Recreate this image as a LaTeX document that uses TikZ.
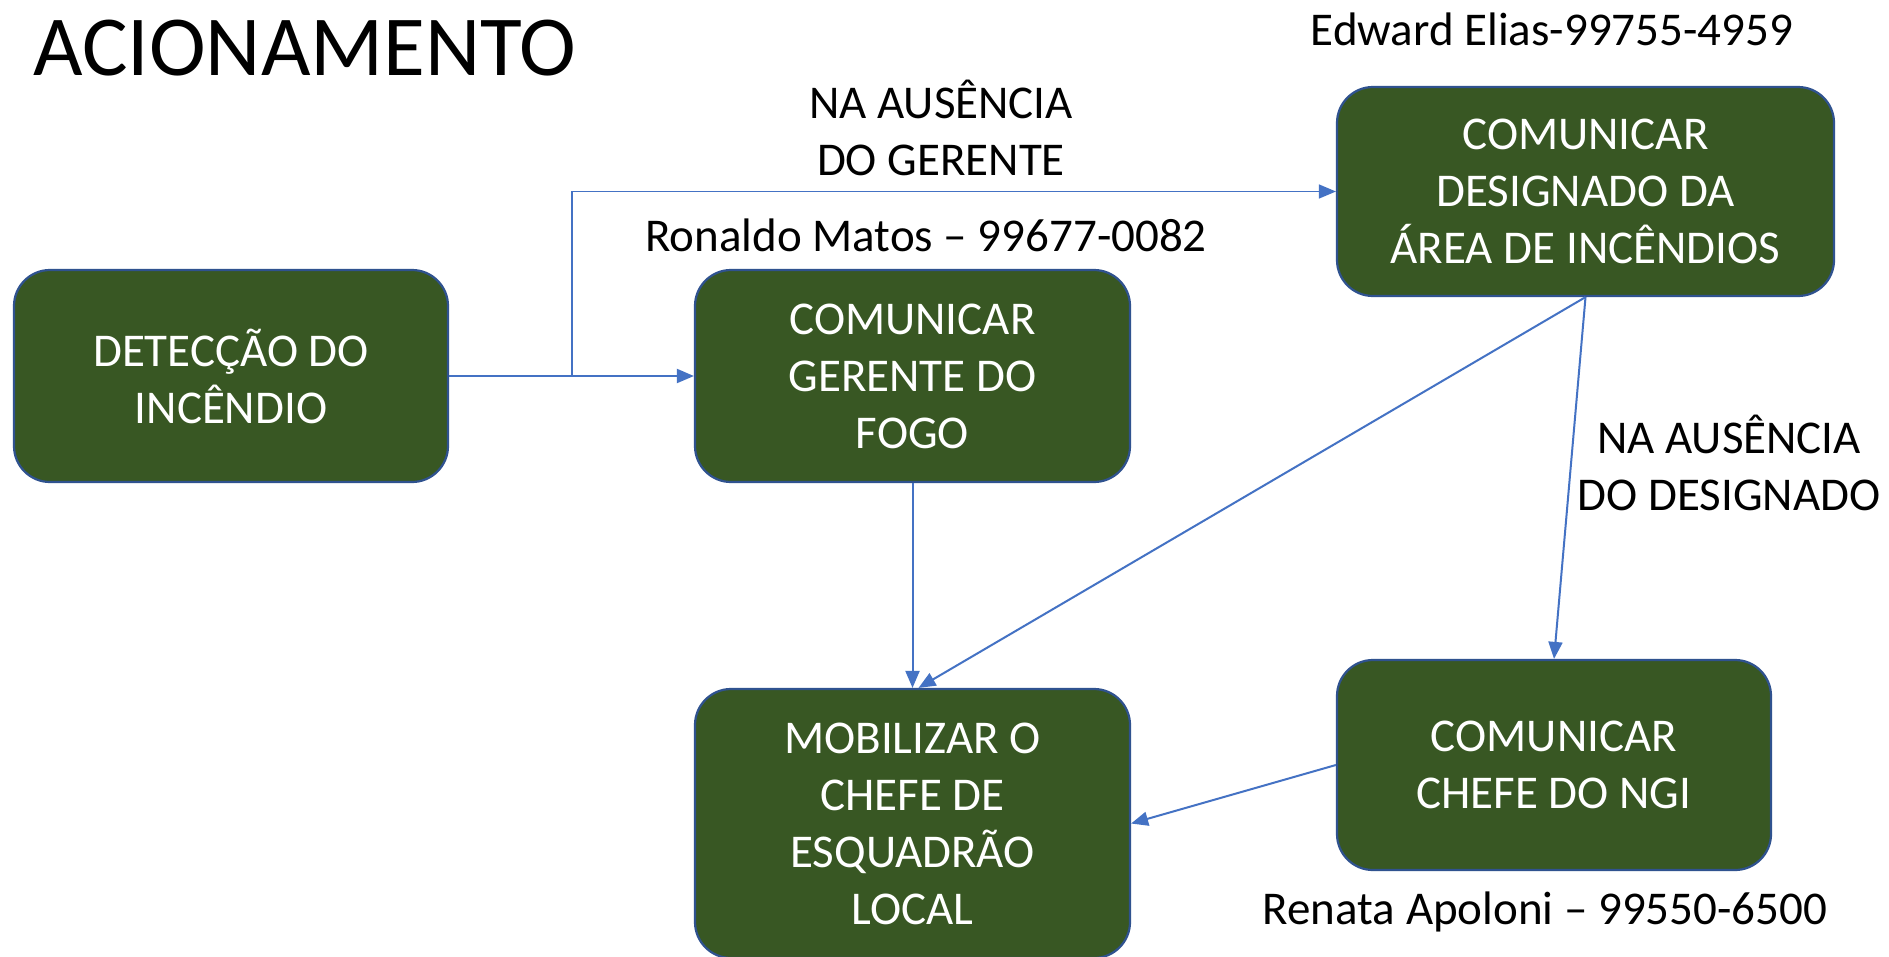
\documentclass[tikz,border=0pt]{standalone}
\usepackage{fontspec}
\setmainfont{Carlito}
\usetikzlibrary{arrows.meta}
\definecolor{boxgreen}{HTML}{385723}
\definecolor{boxline}{HTML}{2F528F}
\definecolor{connblue}{HTML}{4472C4}
\begin{document}
\begin{tikzpicture}[x=1pt,y=-1pt,
  box/.style={draw=boxline, line width=2.2pt, fill=boxgreen, rounded corners=36pt, text=white, align=center, font=\fontsize{47}{57}\selectfont, inner sep=0pt},
  lbl/.style={align=center, font=\fontsize{47}{57}\selectfont, inner sep=0pt},
  conn/.style={draw=connblue, line width=2pt, -{Triangle[length=17pt,width=14pt]}},
  thinconn/.style={draw=connblue, line width=1.3pt, -{Triangle[length=17pt,width=14pt]}}]
\useasboundingbox (0,0) rectangle (1889,956);
\fill[white] (0,0) rectangle (1889,956);
\node[anchor=base west, inner sep=0pt, font=\fontsize{85.5}{96}\selectfont] (title) at (33,75) {ACIONAMENTO};
\node[box, minimum width=434pt, minimum height=212pt] (det) at (231,376) {DETECÇÃO DO\\INCÊNDIO};
\node[box, minimum width=435pt, minimum height=212pt] (ger) at (912.5,376) {COMUNICAR\\GERENTE DO\\FOGO};
\node[box, minimum width=497pt, minimum height=209pt] (des) at (1585.5,191.5) {COMUNICAR\\DESIGNADO DA\\ÁREA DE INCÊNDIOS};
\node[box, minimum width=435pt, minimum height=269pt] (mob) at (912.5,823.5) {MOBILIZAR O\\CHEFE DE\\ESQUADRÃO\\LOCAL};
\node[box, minimum width=434pt, minimum height=210pt] (ngi) at (1554,765) {COMUNICAR\\CHEFE DO NGI};
\node[lbl] (edw) at (1552,29) {Edward Elias-99755-4959};
\node[lbl] (ausg) at (941,128) {NA AUSÊNCIA\\DO GERENTE};
\node[lbl] (ron) at (926,235) {Ronaldo Matos – 99677-0082};
\node[lbl] (ausd) at (1729,463) {NA AUSÊNCIA\\DO DESIGNADO};
\node[lbl] (ren) at (1545,912) {Renata Apoloni – 99550-6500};
\coordinate (j) at (572,376);
\draw[conn] (det.east) -- (ger.west);
\draw[thinconn] (j) |- (des.west);
\draw[conn] (ger.south) -- (mob.north);
\draw[conn] (des.south) -- ([xshift=6pt]mob.north);
\draw[conn] (des.south) -- (ngi.north);
\draw[conn] (ngi.west) -- (mob.east);
\end{tikzpicture}
\end{document}
